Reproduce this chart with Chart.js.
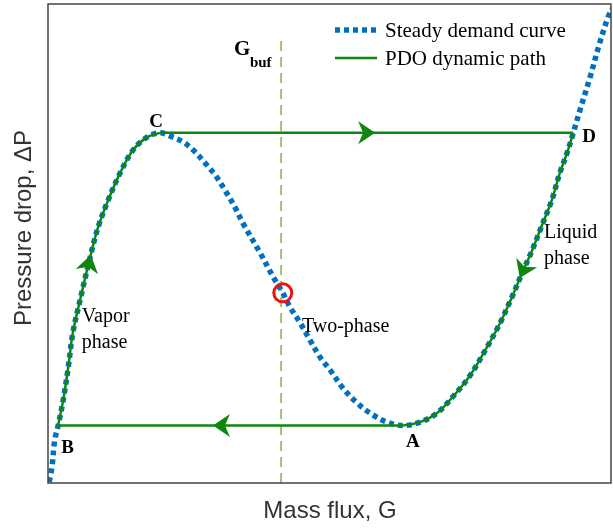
<!DOCTYPE html>
<html>
<head>
<meta charset="utf-8">
<script src="https://cdn.jsdelivr.net/npm/chart.js@4.4.0/dist/chart.umd.min.js"></script>
<style>
  html, body { margin: 0; padding: 0; background: #fff; }
</style>
</head>
<body>
<canvas id="chart" width="613" height="529"></canvas>
<script>
// steady demand curve, mass flux G vs pressure drop (arbitrary units 0..100)
const demandG = [0.2, 0.7, 1.2, 1.8, 2.7, 3.6, 4.4, 5.7, 7.5, 8.9, 10.7, 12.8, 15.1, 17.6, 19.9,
  22.2, 24.0, 25.8, 27.9, 29.7, 31.4, 33.2, 34.6, 37.7, 40.0, 41.6, 43.0, 44.8, 46.5, 48.3,
  50.1, 52.4, 54.9, 57.2, 60.2, 63.1, 66.1, 69.1, 71.9, 75.0, 78.0, 80.3, 82.4, 84.2, 86.0,
  87.7, 89.5, 90.9, 92.2, 93.3, 94.5, 96.3, 98.0, 99.5, 100.2]
const demandDP = [0.2, 3.3, 9.0, 12.0, 17.3, 24.2, 31.3, 38.2, 47.2, 53.4, 59.1, 64.7, 69.5, 72.2, 73.1,
  72.2, 71.2, 69.5, 66.8, 64.3, 61.2, 57.6, 54.3, 48.0, 43.0, 39.9, 36.7, 33.4, 29.9, 26.3,
  23.6, 19.8, 16.7, 14.6, 12.7, 12.0, 12.7, 14.6, 18.0, 22.5, 28.4, 33.4, 38.8, 43.8, 48.6,
  53.7, 59.1, 64.7, 68.9, 73.1, 77.9, 84.8, 91.9, 97.3, 99.0]

// turning points of the PDO cycle (indices into the demand curve)
const idxB = 3, idxC = 14, idxA = 35, idxD = 49
const gBuf = 41.4
const gBufTop = 92.7
const opPoint = { x: 41.7, y: 39.7 }

const GREEN = '#0f870f'
const BLUE = '#0070c0'
const SERIF = "'Liberation Serif', 'Times New Roman', serif"
const SANS = "'Liberation Sans', Arial, sans-serif"

const pts = (from, to) => demandG.slice(from, to + 1).map((g, i) => ({ x: g, y: demandDP[from + i] }))

const greenLine = (data, tension) => ({
  data, showLine: true, borderColor: GREEN, borderWidth: 2.5, pointRadius: 0, tension, order: 0, fill: false
})

// arrows: tip position + a point behind it (gives direction)
const arrows = [
  { tip: [7.6, 47.6], back: [demandG[7], demandDP[7]] },
  { tip: [58.1, demandDP[idxC]], back: [50, demandDP[idxC]] },
  { tip: [83.8, 42.8], back: [demandG[44], demandDP[44]] },
  { tip: [29.3, demandDP[idxA]], back: [40, demandDP[idxA]] },
]

const labels = [
  { text: 'C', x: 19.2, y: 74.3, bold: true, align: 'center' },
  { text: 'D', x: 96.1, y: 71.2, bold: true, align: 'center' },
  { text: 'B', x: 3.5, y: 6.3, bold: true, align: 'center' },
  { text: 'A', x: 64.8, y: 7.5, bold: true, align: 'center' },
  { text: ['Vapor', 'phase'], x: 6.0, y: 33.6, align: 'left' },
  { text: 'Two-phase', x: 45.1, y: 31.5, align: 'left' },
  { text: ['Liquid', 'phase'], x: 88.1, y: 51.1, align: 'left' },
]

const decorations = {
  id: 'decorations',
  afterDatasetsDraw(chart) {
    const { ctx, chartArea: a, scales: { x, y } } = chart
    ctx.save()

    // frame
    ctx.strokeStyle = '#444'
    ctx.lineWidth = 1.5
    ctx.strokeRect(a.left, a.top, a.right - a.left, a.bottom - a.top)

    // arrow heads
    ctx.fillStyle = GREEN
    arrows.forEach(({ tip, back }) => {
      const tx = x.getPixelForValue(tip[0]), ty = y.getPixelForValue(tip[1])
      const bx = x.getPixelForValue(back[0]), by = y.getPixelForValue(back[1])
      const ang = Math.atan2(ty - by, tx - bx)
      ctx.save()
      ctx.translate(tx, ty)
      ctx.rotate(ang)
      ctx.beginPath()
      ctx.moveTo(0, 0)
      ctx.lineTo(-17, -11.5)
      ctx.lineTo(-12, 0)
      ctx.lineTo(-17, 11.5)
      ctx.closePath()
      ctx.fill()
      ctx.restore()
    })

    // text labels
    ctx.fillStyle = '#000'
    ctx.textBaseline = 'alphabetic'
    labels.forEach(l => {
      ctx.font = (l.bold ? 'bold 19px ' : '20px ') + SERIF
      ctx.textAlign = l.align
      const lines = Array.isArray(l.text) ? l.text : [l.text]
      lines.forEach((t, i) => ctx.fillText(t, x.getPixelForValue(l.x), y.getPixelForValue(l.y) + i * 26))
    })

    // G_buf label
    const gx = x.getPixelForValue(33.2), gy = y.getPixelForValue(89.4)
    ctx.textAlign = 'left'
    ctx.font = 'bold 21px ' + SERIF
    ctx.fillText('G', gx - 1, gy)
    ctx.font = 'bold 15px ' + SERIF
    ctx.fillText('buf', gx + 15, gy + 12)

    // legend
    const lx = a.left + 287
    ctx.lineWidth = 5.5
    ctx.strokeStyle = BLUE
    ctx.setLineDash([5, 4])
    ctx.beginPath(); ctx.moveTo(lx, 30); ctx.lineTo(lx + 41, 30); ctx.stroke()
    ctx.setLineDash([])
    ctx.lineWidth = 2.5
    ctx.strokeStyle = GREEN
    ctx.beginPath(); ctx.moveTo(lx, 58); ctx.lineTo(lx + 42, 58); ctx.stroke()
    ctx.font = '21px ' + SERIF
    ctx.fillStyle = '#000'
    ctx.fillText('Steady demand curve', lx + 50, 37)
    ctx.fillText('PDO dynamic path', lx + 50, 65)

    // axis titles
    ctx.fillStyle = '#333'
    ctx.font = '24px ' + SANS
    ctx.textAlign = 'center'
    ctx.textBaseline = 'middle'
    ctx.fillText('Mass flux, G', 330, 511)
    ctx.translate(24, 228)
    ctx.rotate(-Math.PI / 2)
    ctx.fillText('Pressure drop, \u0394P', 0, 0)
    ctx.restore()
  }
}

new Chart(document.getElementById('chart').getContext('2d'), {
  type: 'scatter',
  data: {
    datasets: [
      greenLine(pts(idxB, idxC), 0.35),
      greenLine([{ x: demandG[idxC], y: demandDP[idxC] }, { x: demandG[idxD], y: demandDP[idxC] }], 0),
      greenLine(pts(idxA, idxD), 0.35),
      greenLine([{ x: demandG[idxA], y: demandDP[idxA] }, { x: demandG[idxB], y: demandDP[idxA] }], 0),
      {
        data: demandG.map((g, i) => ({ x: g, y: demandDP[i] })),
        showLine: true, borderColor: BLUE, borderWidth: 5.5, borderDash: [5, 4],
        borderCapStyle: 'butt', pointRadius: 0, tension: 0.35, order: 2
      },
      {
        data: [{ x: gBuf, y: 0 }, { x: gBuf, y: gBufTop }],
        showLine: true, borderColor: '#80b040', borderWidth: 1.5, borderDash: [10, 6],
        pointRadius: 0, order: 3
      },
      {
        data: [opPoint],
        pointRadius: 9, pointBorderWidth: 3, pointBorderColor: '#ee1111',
        pointBackgroundColor: 'rgba(0,0,0,0)', order: -1
      },
    ]
  },
  options: {
    responsive: false,
    animation: false,
    layout: { autoPadding: false, padding: { left: 48, top: 4, right: 2, bottom: 46 } },
    scales: {
      x: { type: 'linear', display: false, min: 0, max: 100 },
      y: { type: 'linear', display: false, min: 0, max: 100 },
    },
    plugins: { legend: { display: false }, tooltip: { enabled: false } }
  },
  plugins: [decorations]
})
</script>
</body>
</html>
